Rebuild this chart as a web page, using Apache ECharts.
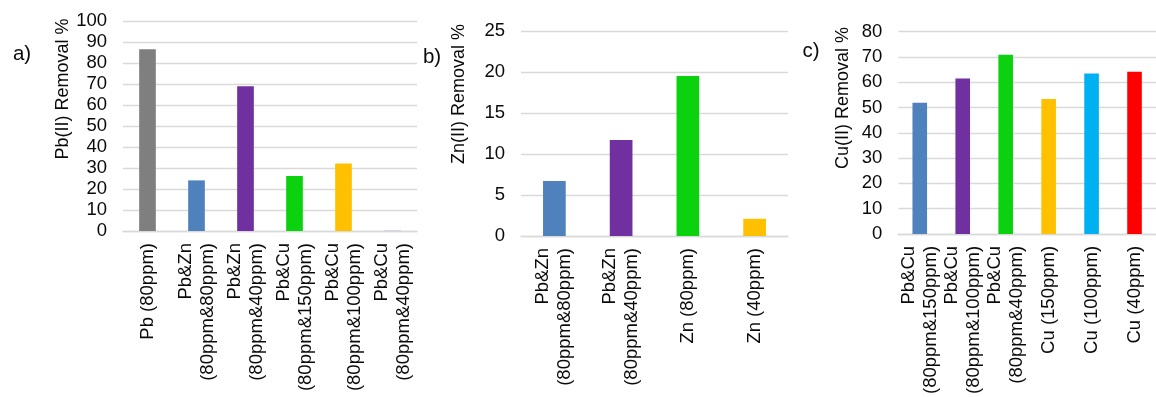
<!DOCTYPE html>
<html>
<head>
<meta charset="utf-8">
<script src="https://cdn.jsdelivr.net/npm/echarts@6/dist/echarts.min.js"></script>
<style>
  html, body { margin: 0; padding: 0; background: #fff; }
  #chart { width: 1156px; height: 397px; }
</style>
</head>
<body>
<div id="chart"></div>
<script>
// Panel a: Pb(II) removal
const pbCategories = ['Pb (80ppm)', 'Pb&Zn\n(80ppm&80ppm)', 'Pb&Zn\n(80ppm&40ppm)', 'Pb&Cu\n(80ppm&150ppm)', 'Pb&Cu\n(80ppm&100ppm)', 'Pb&Cu\n(80ppm&40ppm)'];
const pbRemoval = [86.5, 24.1, 68.9, 26.2, 32.2, 0.2];
const pbColors = ['#7F7F7F', '#4F81BD', '#7030A0', '#0BD10F', '#FFC000', '#B4A7D6'];

// Panel b: Zn(II) removal
const znCategories = ['Pb&Zn\n(80ppm&80ppm)', 'Pb&Zn\n(80ppm&40ppm)', 'Zn (80ppm)', 'Zn (40ppm)'];
const znRemoval = [6.7, 11.7, 19.5, 2.1];
const znColors = ['#4F81BD', '#7030A0', '#0BD10F', '#FFC000'];

// Panel c: Cu(II) removal
const cuCategories = ['Pb&Cu\n(80ppm&150ppm)', 'Pb&Cu\n(80ppm&100ppm)', 'Pb&Cu\n(80ppm&40ppm)', 'Cu (150ppm)', 'Cu (100ppm)', 'Cu (40ppm)'];
const cuRemoval = [51.9, 61.5, 70.9, 53.4, 63.5, 64.2];
const cuColors = ['#4F81BD', '#7030A0', '#0BD10F', '#FFC000', '#00B0F0', '#FF0000'];

// Value-axis ranges
const pbAxis = { max: 100, interval: 10 };
const znAxis = { max: 25, interval: 5 };
const cuAxis = { max: 80, interval: 10 };

const FONT = 'Liberation Sans, Arial, sans-serif';
const TEXT = '#0a0a0a';
const GRID_LINE = '#D9D9D9';

function catAxis(idx, cats) {
  return {
    type: 'category', gridIndex: idx, data: cats,
    axisLine: { show: true, lineStyle: { color: GRID_LINE, width: 1.3 } },
    axisTick: { show: false },
    axisLabel: {
      interval: 0, rotate: 90, margin: 12,
      fontFamily: FONT, fontSize: 18.5, lineHeight: 22, color: TEXT
    }
  };
}

function valAxis(idx, range) {
  return {
    type: 'value', gridIndex: idx, min: 0, max: range.max, interval: range.interval,
    axisLine: { show: false }, axisTick: { show: false },
    splitLine: { lineStyle: { color: GRID_LINE, width: 1.3 } },
    axisLabel: { margin: 16, fontFamily: FONT, fontSize: 18.5, color: TEXT }
  };
}

function barSeries(idx, values, colors) {
  return {
    type: 'bar', xAxisIndex: idx, yAxisIndex: idx,
    data: values, barWidth: '34%',
    itemStyle: { color: p => colors[p.dataIndex] },
    animation: false
  };
}

function sideText(x, y, text, size, rotate) {
  return {
    type: 'text', x: x, y: y, rotation: rotate ? Math.PI / 2 : 0,
    style: {
      text: text, fontFamily: FONT, fontSize: size, fill: TEXT,
      align: 'center', verticalAlign: 'middle'
    }
  };
}

const chart = echarts.init(document.getElementById('chart'), null, { renderer: 'canvas' });
chart.setOption({
  backgroundColor: '#fff',
  animation: false,
  grid: [
    { left: 123, top: 21, width: 294, height: 210 },
    { left: 521, top: 31, width: 267, height: 205 },
    { left: 898.3, top: 31.7, width: 268, height: 205.6 }
  ],
  xAxis: [catAxis(0, pbCategories), catAxis(1, znCategories), catAxis(2, cuCategories)],
  yAxis: [valAxis(0, pbAxis), valAxis(1, znAxis), valAxis(2, cuAxis)],
  series: [barSeries(0, pbRemoval, pbColors), barSeries(1, znRemoval, znColors), barSeries(2, cuRemoval, cuColors)],
  graphic: [
    sideText(22, 54, 'a)', 20.5, false),
    sideText(432, 57, 'b)', 20.5, false),
    sideText(811, 51, 'c)', 20.5, false),
    sideText(63, 89, 'Pb(II) Removal %', 18, true),
    sideText(459, 94, 'Zn(II) Removal %', 18, true),
    sideText(843.5, 98, 'Cu(II) Removal %', 18, true)
  ]
});
</script>
</body>
</html>
